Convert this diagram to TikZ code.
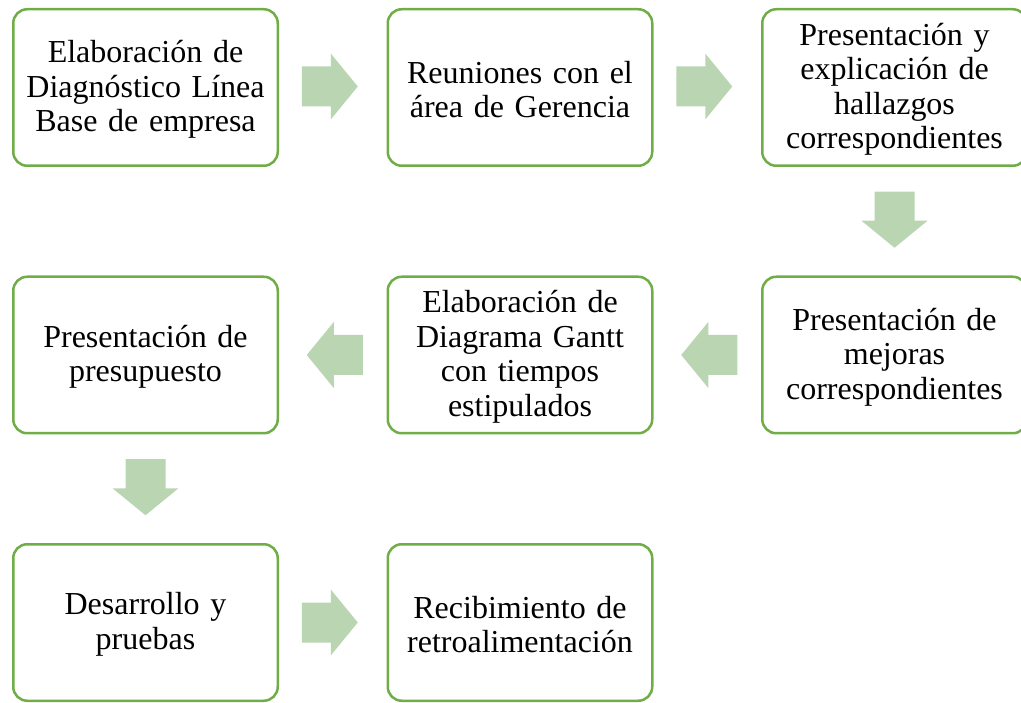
\documentclass[tikz,border=0pt]{standalone}
\usepackage{fontspec}
\setmainfont{Liberation Serif}
\usetikzlibrary{calc}
\definecolor{boxgreen}{RGB}{112,173,71}
\definecolor{arrowgreen}{RGB}{186,213,178}
\tikzset{
  stepbox/.style={draw=boxgreen, line width=2.5pt, rounded corners=14pt, fill=white,
    minimum width=264.5pt, minimum height=156.5pt, inner sep=0pt,
    text width=258pt, align=center, font=\fontsize{32}{34.5}\selectfont},
  steptext/.style={inner sep=0pt, text width=258pt, align=center,
    font=\fontsize{32}{34.5}\selectfont},
  blockarrow/.pic={\fill[arrowgreen] (-28,-20) -- (1,-20) -- (1,-33) -- (28,0)
    -- (1,33) -- (1,20) -- (-28,20) -- cycle;}
}
\begin{document}
\begin{tikzpicture}[x=1pt,y=-1pt]
\useasboundingbox (0,0) rectangle (1021,703);
\clip (0,0) rectangle (1021,703);
\node[stepbox] (b1) at (145.5,87.5) {};
\node[stepbox] (b2) at (520,87.5) {};
\node[stepbox] (b3) at (894.5,87.5) {};
\node[stepbox] (b4) at (894.5,355) {};
\node[stepbox] (b5) at (520,355) {};
\node[stepbox] (b6) at (145.5,355) {};
\node[stepbox] (b7) at (145.5,622.5) {};
\node[stepbox] (b8) at (520,622.5) {};
\node[steptext] (t1) at ($(b1.center)+(0,2)$) {Elaboración de\\Diagnóstico Línea\\Base de empresa};
\node[steptext] (t2) at ($(b2.center)+(0,2)$) {Reuniones con el\\área de Gerencia};
\node[steptext] (t3) at ($(b3.center)+(0,2)$) {Presentación y\\explicación de\\hallazgos\\correspondientes};
\node[steptext] (t4) at ($(b4.center)+(0,2)$) {Presentación de\\mejoras\\correspondientes};
\node[steptext] (t5) at ($(b5.center)+(0,2)$) {Elaboración de\\Diagrama Gantt\\con tiempos\\estipulados};
\node[steptext] (t6) at ($(b6.center)+(0,2)$) {Presentación de\\presupuesto};
\node[steptext] (t7) at ($(b7.center)+(0,2)$) {Desarrollo y\\pruebas};
\node[steptext] (t8) at ($(b8.center)+(0,2)$) {Recibimiento de\\retroalimentación};
\coordinate (m1) at ($(b1.east)!0.5!(b2.west)+(-3,-1)$);
\coordinate (m2) at ($(b2.east)!0.5!(b3.west)+(-3,-1)$);
\coordinate (m3) at ($(b3.south)!0.5!(b4.north)+(0,-1.5)$);
\coordinate (m4) at ($(b4.west)!0.5!(b5.east)+(2,0)$);
\coordinate (m5) at ($(b5.west)!0.5!(b6.east)+(2,0)$);
\coordinate (m6) at ($(b6.south)!0.5!(b7.north)+(0,-1.5)$);
\coordinate (m7) at ($(b7.east)!0.5!(b8.west)+(-3,0)$);
\pic at (m1) {blockarrow};
\pic at (m2) {blockarrow};
\pic[rotate=-90] at (m3) {blockarrow};
\pic[rotate=180] at (m4) {blockarrow};
\pic[rotate=180] at (m5) {blockarrow};
\pic[rotate=-90] at (m6) {blockarrow};
\pic at (m7) {blockarrow};
\end{tikzpicture}
\end{document}
